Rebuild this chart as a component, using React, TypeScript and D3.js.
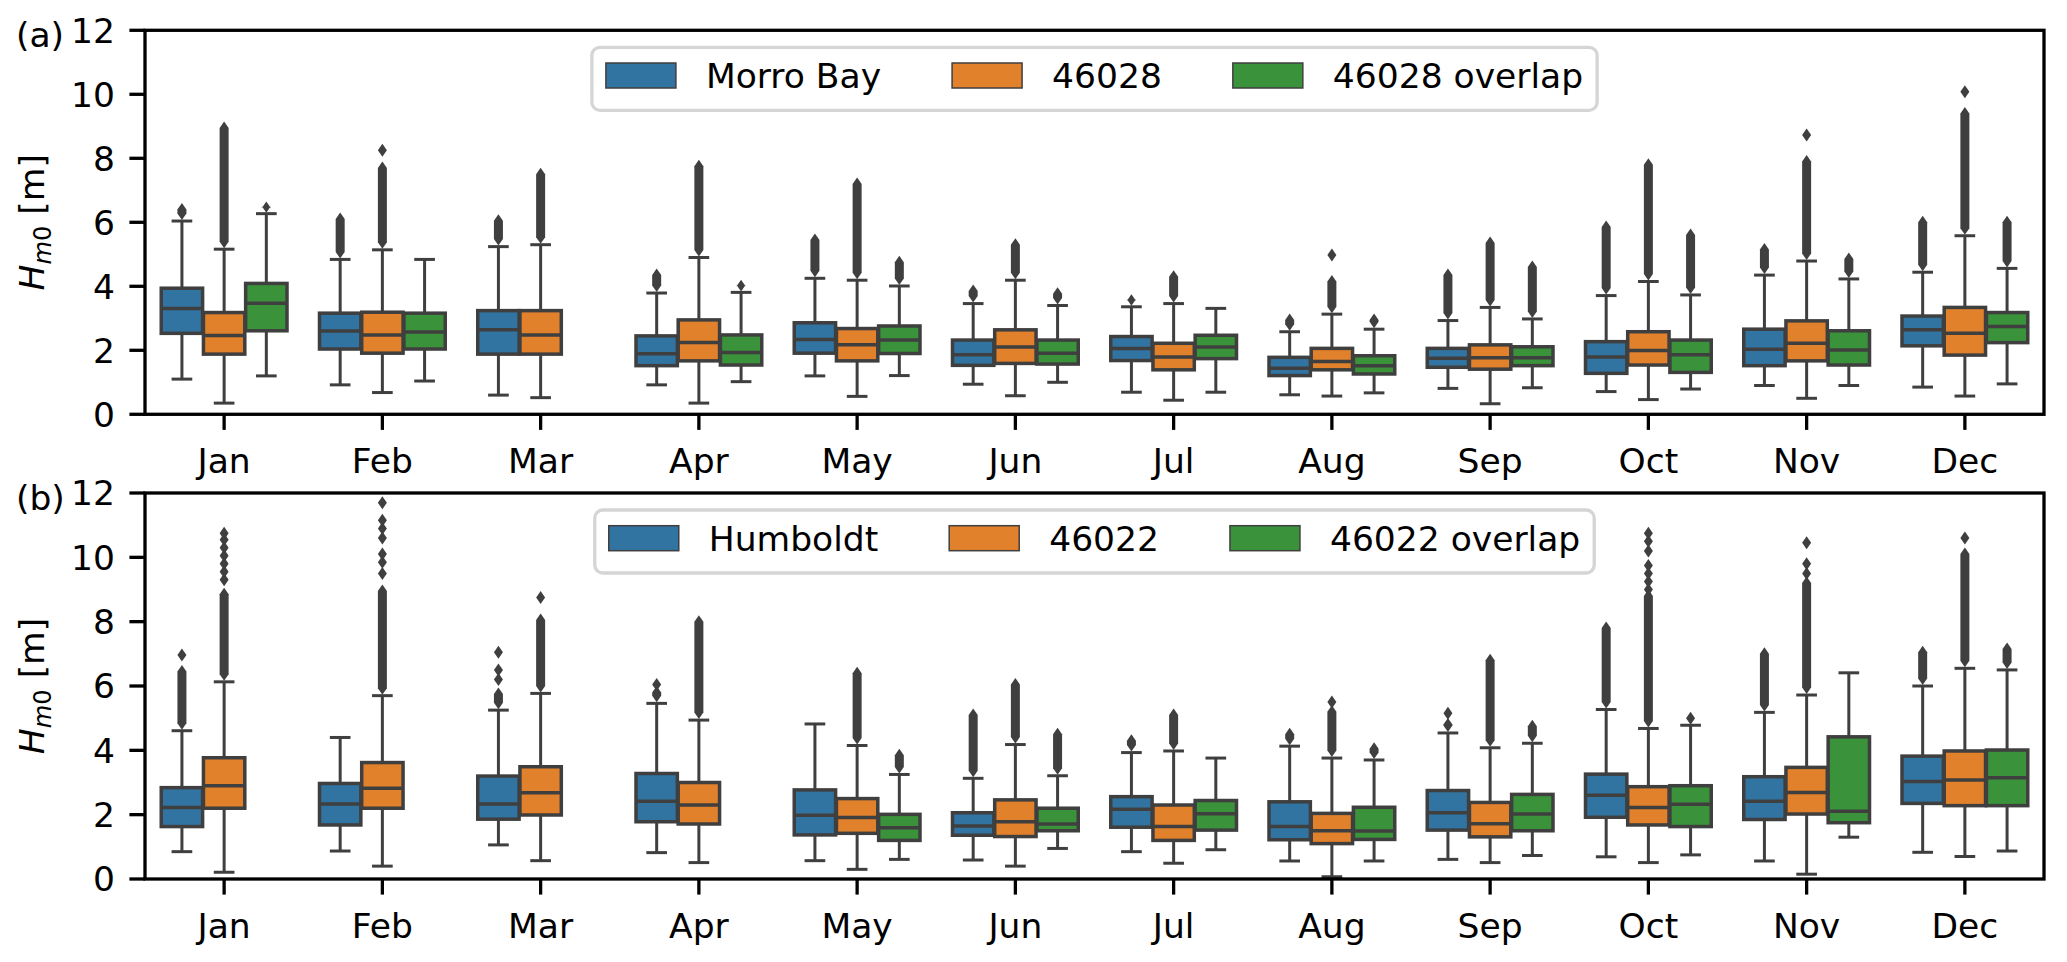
import * as d3 from 'd3';
import React, { useEffect, useRef } from 'react';

const WIDTH = 2067;
const HEIGHT = 962;
const FONT = '"DejaVu Sans", sans-serif';
const FS = 34.5;

const LEFT = 145;
const RIGHT = 2044;
const PANEL_TOPS = [30.3, 493];
const PANEL_BOTTOMS = [414.3, 879];

const MONTHS = ['Jan', 'Feb', 'Mar', 'Apr', 'May', 'Jun', 'Jul', 'Aug', 'Sep', 'Oct', 'Nov', 'Dec'];
const Y_TICKS = [0, 2, 4, 6, 8, 10, 12];
const COLORS = ['#3274a1', '#e1812c', '#3a923a'];
const GRAY = '#3f3f3f';

// [lower whisker, q1, median, q3, upper whisker]
type Box = [number, number, number, number, number] | null;

// ---- panel (a)
const MORRO_BAY: Box[] = [
  [1.1, 2.53, 3.31, 3.94, 6.04],
  [0.92, 2.04, 2.6, 3.16, 4.84],
  [0.6, 1.88, 2.64, 3.24, 5.24],
  [0.92, 1.52, 1.89, 2.45, 3.79],
  [1.2, 1.91, 2.34, 2.86, 4.25],
  [0.94, 1.53, 1.86, 2.32, 3.46],
  [0.69, 1.68, 2.06, 2.43, 3.36],
  [0.61, 1.21, 1.44, 1.78, 2.58],
  [0.81, 1.47, 1.75, 2.06, 2.93],
  [0.71, 1.28, 1.79, 2.27, 3.71],
  [0.9, 1.52, 2.03, 2.66, 4.35],
  [0.85, 2.14, 2.64, 3.07, 4.44],
];
const MORRO_BAY_FLIER_TOP = [6.4, 6.1, 6.05, 4.35, 5.45, 3.85, 3.55, 2.95, 4.35, 5.85, 5.15, 6.0];
const MORRO_BAY_ISOLATED: number[][] = [[], [], [], [], [], [], [], [], [], [], [], []];

const B46028: Box[] = [
  [0.35, 1.88, 2.46, 3.18, 5.16],
  [0.68, 1.91, 2.48, 3.19, 5.14],
  [0.52, 1.88, 2.48, 3.24, 5.3],
  [0.35, 1.67, 2.24, 2.95, 4.9],
  [0.56, 1.67, 2.17, 2.68, 4.19],
  [0.58, 1.59, 2.1, 2.64, 4.19],
  [0.44, 1.39, 1.79, 2.22, 3.46],
  [0.57, 1.39, 1.65, 2.06, 3.13],
  [0.33, 1.41, 1.77, 2.17, 3.34],
  [0.46, 1.54, 1.99, 2.58, 4.15],
  [0.5, 1.67, 2.22, 2.92, 4.79],
  [0.57, 1.85, 2.53, 3.34, 5.58],
];
const B46028_FLIER_TOP = [8.95, 7.7, 7.5, 7.75, 7.2, 5.3, 4.3, 4.15, 5.35, 7.8, 7.9, 9.4];
const B46028_ISOLATED: number[][] = [[], [8.25], [], [], [], [], [], [4.98], [], [], [8.73], [10.08]];

const B46028_OVERLAP: Box[] = [
  [1.2, 2.61, 3.47, 4.09, 6.27],
  [1.04, 2.04, 2.57, 3.16, 4.84],
  null,
  [1.02, 1.54, 1.93, 2.48, 3.81],
  [1.21, 1.9, 2.32, 2.76, 4.01],
  [1.0, 1.57, 1.91, 2.32, 3.4],
  [0.69, 1.74, 2.1, 2.47, 3.31],
  [0.67, 1.26, 1.52, 1.83, 2.66],
  [0.83, 1.52, 1.77, 2.11, 2.98],
  [0.79, 1.31, 1.86, 2.32, 3.73],
  [0.9, 1.54, 2.01, 2.61, 4.23],
  [0.95, 2.24, 2.74, 3.18, 4.56],
];
const B46028_OVERLAP_FLIER_TOP = [6.45, null, null, 4.0, 4.75, 3.77, null, 2.95, 4.6, 5.6, 4.85, 6.0];
const B46028_OVERLAP_ISOLATED: number[][] = [[], [], [], [], [], [], [], [], [], [], [], []];

// ---- panel (b)
const HUMBOLDT: Box[] = [
  [0.85, 1.63, 2.22, 2.84, 4.61],
  [0.87, 1.68, 2.33, 2.97, 4.4],
  [1.06, 1.86, 2.33, 3.2, 5.25],
  [0.82, 1.78, 2.42, 3.28, 5.46],
  [0.57, 1.37, 1.98, 2.77, 4.82],
  [0.59, 1.36, 1.65, 2.06, 3.13],
  [0.85, 1.61, 2.17, 2.56, 3.93],
  [0.56, 1.22, 1.63, 2.4, 4.13],
  [0.61, 1.52, 2.06, 2.75, 4.54],
  [0.69, 1.92, 2.6, 3.26, 5.27],
  [0.56, 1.85, 2.42, 3.18, 5.18],
  [0.83, 2.35, 3.03, 3.82, 6.0],
];
const HUMBOLDT_FLIER_TOP = [6.45, null, 5.75, 5.8, null, 5.1, 4.3, 4.5, 4.8, 7.8, 7.0, 7.05];
const HUMBOLDT_ISOLATED: number[][] = [[6.96], [], [6.2, 6.5, 7.05], [6.05], [], [], [], [], [5.15], [], [], []];

const B46022: Box[] = [
  [0.21, 2.2, 2.9, 3.77, 6.13],
  [0.4, 2.2, 2.82, 3.62, 5.7],
  [0.57, 1.99, 2.68, 3.49, 5.77],
  [0.51, 1.71, 2.3, 3.0, 4.94],
  [0.3, 1.42, 1.91, 2.5, 4.15],
  [0.4, 1.32, 1.78, 2.46, 4.18],
  [0.49, 1.2, 1.63, 2.3, 3.98],
  [0.07, 1.1, 1.5, 2.04, 3.76],
  [0.51, 1.31, 1.72, 2.38, 4.08],
  [0.51, 1.68, 2.22, 2.87, 4.68],
  [0.15, 2.02, 2.69, 3.47, 5.72],
  [0.7, 2.28, 3.08, 3.98, 6.55],
];
const B46022_FLIER_TOP = [8.85, 8.95, 8.05, 8.0, 6.4, 6.05, 5.1, 5.2, 6.8, 8.8, 9.2, 10.1];
const B46022_ISOLATED: number[][] = [
  [9.3, 9.55, 9.8, 10.05, 10.3, 10.55, 10.75],
  [9.5, 9.85, 10.1, 10.6, 10.9, 11.15, 11.7],
  [8.75],
  [],
  [],
  [],
  [],
  [5.5],
  [],
  [9.0, 9.25, 9.5, 9.75, 10.2, 10.5, 10.75],
  [9.5, 9.8, 10.45],
  [10.6],
];

const B46022_OVERLAP: Box[] = [
  null,
  null,
  null,
  null,
  [0.61, 1.2, 1.59, 2.01, 3.25],
  [0.95, 1.5, 1.71, 2.2, 3.21],
  [0.91, 1.52, 2.03, 2.44, 3.76],
  [0.56, 1.23, 1.49, 2.23, 3.7],
  [0.73, 1.5, 2.02, 2.63, 4.22],
  [0.75, 1.63, 2.32, 2.9, 4.78],
  [1.3, 1.75, 2.11, 4.42, 6.41],
  [0.87, 2.28, 3.15, 4.01, 6.5],
];
const B46022_OVERLAP_FLIER_TOP = [null, null, null, null, 3.85, 4.5, null, 4.05, 4.75, null, null, 7.15];
const B46022_OVERLAP_ISOLATED: number[][] = [[], [], [], [], [], [], [], [], [], [5.0], [], []];

const PANELS = [
  {
    tag: '(a)',
    names: ['Morro Bay', '46028', '46028 overlap'],
    boxes: [MORRO_BAY, B46028, B46028_OVERLAP],
    flierTops: [MORRO_BAY_FLIER_TOP, B46028_FLIER_TOP, B46028_OVERLAP_FLIER_TOP],
    isolated: [MORRO_BAY_ISOLATED, B46028_ISOLATED, B46028_OVERLAP_ISOLATED],
  },
  {
    tag: '(b)',
    names: ['Humboldt', '46022', '46022 overlap'],
    boxes: [HUMBOLDT, B46022, B46022_OVERLAP],
    flierTops: [HUMBOLDT_FLIER_TOP, B46022_FLIER_TOP, B46022_OVERLAP_FLIER_TOP],
    isolated: [HUMBOLDT_ISOLATED, B46022_ISOLATED, B46022_OVERLAP_ISOLATED],
  },
];

const DIA_W = 4.5; // half width of a flier diamond
const DIA_H = 6.5; // half height

const diamond = (cx: number, cy: number) =>
  `M${cx},${cy - DIA_H}L${cx + DIA_W},${cy}L${cx},${cy + DIA_H}L${cx - DIA_W},${cy}Z`;

// a run of overlapping diamonds between two values
const flierRun = (cx: number, yLow: number, yHigh: number) =>
  `M${cx},${yHigh - DIA_H}L${cx + DIA_W},${yHigh}L${cx + DIA_W},${yLow}L${cx},${yLow + DIA_H}` +
  `L${cx - DIA_W},${yLow}L${cx - DIA_W},${yHigh}Z`;

const drawPanel = (svg: any, panel: (typeof PANELS)[number], top: number, bottom: number) => {
  const y = d3.scaleLinear().domain([0, 12]).range([bottom, top]);
  const x = d3.scaleBand<string>().domain(MONTHS).range([LEFT, RIGHT]);
  const bw = x.bandwidth();
  const hue = d3.scaleBand<number>().domain([0, 1, 2]).range([-0.4 * bw, 0.4 * bw]);
  const boxW = hue.bandwidth() * 0.98;
  const g = svg.append('g');

  panel.boxes.forEach((series, si) => {
    series.forEach((b, i) => {
      if (!b) return;
      const [lo, q1, med, q3, hi] = b;
      const cx = (x(MONTHS[i]) as number) + bw / 2 + (hue(si) as number) + hue.bandwidth() / 2;
      const bg = g.append('g');
      // whiskers and caps
      [
        [q3, hi],
        [q1, lo],
      ].forEach(([a, c]) => {
        bg.append('line').attr('x1', cx).attr('x2', cx).attr('y1', y(a)).attr('y2', y(c))
          .attr('stroke', GRAY).attr('stroke-width', 3);
        bg.append('line').attr('x1', cx - boxW / 4).attr('x2', cx + boxW / 4).attr('y1', y(c)).attr('y2', y(c))
          .attr('stroke', GRAY).attr('stroke-width', 3);
      });
      bg.append('rect')
        .attr('x', cx - boxW / 2)
        .attr('y', y(q3))
        .attr('width', boxW)
        .attr('height', y(q1) - y(q3))
        .attr('fill', COLORS[si])
        .attr('stroke', GRAY)
        .attr('stroke-width', 3.5);
      bg.append('line').attr('x1', cx - boxW / 2).attr('x2', cx + boxW / 2).attr('y1', y(med)).attr('y2', y(med))
        .attr('stroke', GRAY).attr('stroke-width', 3.5);

      const ft = panel.flierTops[si][i];
      if (ft != null) {
        bg.append('path').attr('d', flierRun(cx, y(hi) - DIA_H - 1, y(ft))).attr('fill', GRAY);
      }
      panel.isolated[si][i].forEach(v => {
        bg.append('path').attr('d', diamond(cx, y(v))).attr('fill', GRAY);
      });
    });
  });

  // frame
  g.append('rect')
    .attr('x', LEFT)
    .attr('y', top)
    .attr('width', RIGHT - LEFT)
    .attr('height', bottom - top)
    .attr('fill', 'none')
    .attr('stroke', '#000')
    .attr('stroke-width', 3.3);

  // y axis
  Y_TICKS.forEach(t => {
    g.append('line').attr('x1', LEFT - 15.6).attr('x2', LEFT).attr('y1', y(t)).attr('y2', y(t))
      .attr('stroke', '#000').attr('stroke-width', 3.3);
    g.append('text')
      .attr('x', LEFT - 30)
      .attr('y', y(t))
      .attr('dy', '0.36em')
      .attr('text-anchor', 'end')
      .attr('font-size', FS)
      .text(t);
  });
  // x axis
  MONTHS.forEach(m => {
    const cx = (x(m) as number) + bw / 2;
    g.append('line').attr('x1', cx).attr('x2', cx).attr('y1', bottom).attr('y2', bottom + 15.6)
      .attr('stroke', '#000').attr('stroke-width', 3.3);
    g.append('text')
      .attr('x', cx)
      .attr('y', bottom + 58.5)
      .attr('text-anchor', 'middle')
      .attr('font-size', FS)
      .text(m);
  });

  // y label
  const yl = g.append('text')
    .attr('transform', `translate(44,${(top + bottom) / 2}) rotate(-90)`)
    .attr('text-anchor', 'middle')
    .attr('font-size', FS);
  yl.append('tspan').attr('font-style', 'italic').text('H');
  yl.append('tspan').attr('font-style', 'italic').attr('font-size', FS * 0.7).attr('dy', 7).text('m');
  yl.append('tspan').attr('font-size', FS * 0.7).text('0');
  yl.append('tspan').attr('dy', -7).text(' [m]');

  // panel tag
  g.append('text').attr('x', 16).attr('y', top + 17).attr('font-size', FS).text(panel.tag);

  // legend, centred at the top of the axes
  const lg = g.append('g');
  const frame = lg.append('rect');
  const handle = 70;
  const textPad = 30;
  const colSpace = 71;
  const pad = 14;
  const items = panel.names.map((name, i) => {
    const t = lg.append('text').attr('font-size', FS).attr('y', top + 58).text(name);
    const w = (t.node() as SVGTextElement).getComputedTextLength();
    return { t, w, i };
  });
  const total = pad * 2 + items.reduce((s, it) => s + handle + textPad + it.w, 0) + colSpace * (items.length - 1);
  const lx = (LEFT + RIGHT) / 2 - total / 2;
  let cur = lx + pad;
  items.forEach(it => {
    lg.append('rect')
      .attr('x', cur)
      .attr('y', top + 32.7)
      .attr('width', handle)
      .attr('height', 25)
      .attr('fill', COLORS[it.i])
      .attr('stroke', GRAY)
      .attr('stroke-width', 1.5);
    it.t.attr('x', cur + handle + textPad);
    cur += handle + textPad + it.w + colSpace;
  });
  frame
    .attr('x', lx)
    .attr('y', top + 17)
    .attr('width', total)
    .attr('height', 63)
    .attr('rx', 8)
    .attr('fill', 'rgba(255,255,255,0.8)')
    .attr('stroke', '#d5d5d5')
    .attr('stroke-width', 3.3);
};

const App: React.FC = () => {
  const ref = useRef<SVGSVGElement>(null);

  useEffect(() => {
    const svg = d3.select(ref.current);
    svg.selectAll('*').remove();
    PANELS.forEach((p, k) => drawPanel(svg, p, PANEL_TOPS[k], PANEL_BOTTOMS[k]));
  }, []);

  return (
    <svg
      ref={ref}
      width={WIDTH}
      height={HEIGHT}
      viewBox={`0 0 ${WIDTH} ${HEIGHT}`}
      style={{ position: 'absolute', left: 0, top: 0, background: '#fff', fontFamily: FONT }}
    />
  );
};

export default App;
